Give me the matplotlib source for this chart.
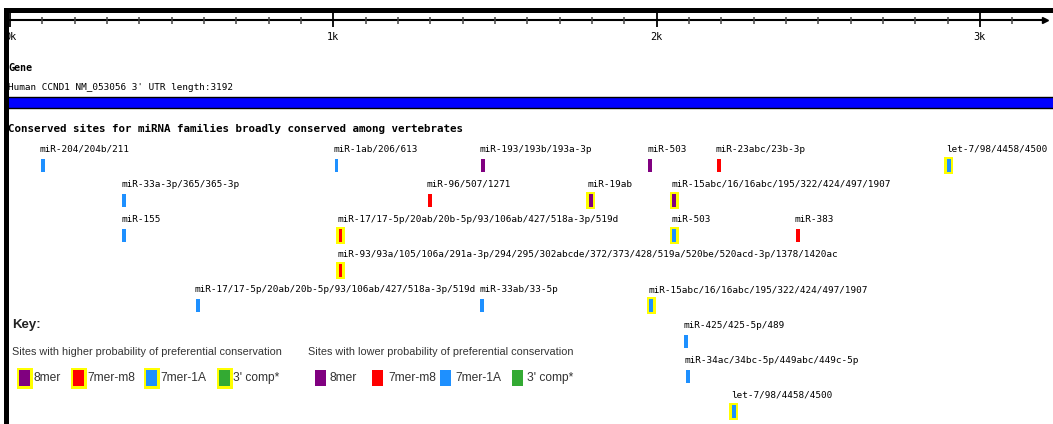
import matplotlib
matplotlib.use("Agg")
import matplotlib.pyplot as plt
from matplotlib.patches import Rectangle
import logging
logging.getLogger('matplotlib.font_manager').setLevel(logging.ERROR)

# ---------------- data ----------------
UTR_LENGTH = 3192
gene_label = "Human CCND1 NM_053056 3' UTR length:3192"
major_ticks = [0, 1000, 2000, 3000]
major_labels = ["0k", "1k", "2k", "3k"]
minor_ticks = list(range(0, 3200, 100))

site_names = [
    "miR-204/204b/211", "miR-1ab/206/613", "miR-193/193b/193a-3p", "miR-503",
    "miR-23abc/23b-3p", "let-7/98/4458/4500",
    "miR-33a-3p/365/365-3p", "miR-96/507/1271", "miR-19ab",
    "miR-15abc/16/16abc/195/322/424/497/1907",
    "miR-155", "miR-17/17-5p/20ab/20b-5p/93/106ab/427/518a-3p/519d", "miR-503", "miR-383",
    "miR-93/93a/105/106a/291a-3p/294/295/302abcde/372/373/428/519a/520be/520acd-3p/1378/1420ac",
    "miR-17/17-5p/20ab/20b-5p/93/106ab/427/518a-3p/519d", "miR-33ab/33-5p",
    "miR-15abc/16/16abc/195/322/424/497/1907",
    "miR-425/425-5p/489",
    "miR-34ac/34bc-5p/449abc/449c-5p",
    "let-7/98/4458/4500",
]
site_pos = [102, 1010, 1463, 1980, 2193, 2904,
            353, 1299, 1797, 2054,
            353, 1022, 2054, 2437,
            1022,
            581, 1460, 1983,
            2091,
            2097,
            2239]
site_row = [0, 0, 0, 0, 0, 0,
            1, 1, 1, 1,
            2, 2, 2, 2,
            3,
            4, 4, 4,
            5,
            6,
            7]
site_type = ["7mer-1A", "7mer-1A", "8mer", "8mer", "7mer-m8", "7mer-1A",
             "7mer-1A", "7mer-m8", "8mer", "8mer",
             "7mer-1A", "7mer-m8", "7mer-1A", "7mer-m8",
             "7mer-m8",
             "7mer-1A", "7mer-1A", "7mer-1A",
             "7mer-1A",
             "7mer-1A",
             "7mer-1A"]
site_high = [False, False, False, False, False, True,
             False, False, True, True,
             False, True, True, False,
             True,
             False, False, True,
             False,
             False,
             True]

key_types = ["8mer", "7mer-m8", "7mer-1A", "3' comp*"]
type_colors = {"8mer": "#800080", "7mer-m8": "#ff0000",
               "7mer-1A": "#1e90ff", "3' comp*": "#33aa33"}
HILITE = "#ffff00"

# ---------------- layout helpers ----------------
W, H = 1053, 424
S = 0.3233          # pixels per nucleotide
X0 = 10.0           # pixel of position 0

def px(x):
    """pixel x -> nucleotide coordinate"""
    return (x - X0) / S

fig = plt.figure(figsize=(W / 100, H / 100), dpi=100)
ax = fig.add_axes([0, 0, 1, 1])
ax.set_xlim(px(0), px(W))
ax.set_ylim(H, 0)
ax.axis("off")

MONO = "DejaVu Sans Mono"
SANS = ["Liberation Sans Narrow", "Liberation Sans", "DejaVu Sans"]
LABEL_FS = 6.75

# ---------------- ruler ----------------
RY = 20
ax.plot([0, UTR_LENGTH + 8], [RY, RY], color="black", lw=1.5, zorder=3)
ax.plot([UTR_LENGTH + 10], [RY], marker=">", color="black", ms=5, zorder=3)
ax.vlines([t for t in minor_ticks if t not in major_ticks], RY - 3.5, RY + 3.5,
          color="#444444", lw=1.1, zorder=3)
ax.vlines(major_ticks, RY - 7, RY + 7, color="black", lw=1.3, zorder=3)
for t, lab in zip(major_ticks, major_labels):
    ax.text(t, 37, lab, family=MONO, fontsize=7.4, ha="center", va="center")

# ---------------- gene ----------------
ax.text(px(8), 68, "Gene", family=MONO, fontsize=7.2, fontweight="bold",
        ha="left", va="center")
ax.text(px(8), 87, gene_label, family=MONO, fontsize=LABEL_FS, ha="left", va="center")
ax.add_patch(Rectangle((px(6), 97), px(W + 5) - px(6), 11, facecolor="#0000ff",
                       edgecolor="black", lw=1.0, zorder=2))

ax.text(px(8), 129, "Conserved sites for miRNA families broadly conserved among vertebrates",
        family=MONO, fontsize=7.8, fontweight="bold", ha="left", va="center")

# ---------------- sites ----------------
ROW0 = 165.0
ROWH = 35.2
MARK_W = px(X0 + 3.5) - px(X0)
MARK_H = 13
BOX_W = px(X0 + 9) - px(X0)
BOX_H = 17
LABEL_DX = px(X0 + 3) - px(X0)

for name, pos, row, typ, hi in zip(site_names, site_pos, site_row, site_type, site_high):
    yc = ROW0 + ROWH * row
    if hi:
        ax.bar(pos, BOX_H, width=BOX_W, bottom=yc - BOX_H / 2, color=HILITE,
               linewidth=0, zorder=3)
    ax.bar(pos, MARK_H, width=MARK_W, bottom=yc - MARK_H / 2,
           color=type_colors[typ], linewidth=0, zorder=4)
    ax.text(pos - LABEL_DX, yc - 16, name, family=MONO, fontsize=LABEL_FS,
            ha="left", va="center", zorder=5)

# ---------------- key ----------------
def fit_text(x, y, s, target_w, **kw):
    t = ax.text(x, y, s, fontsize=10, **kw)
    fig.canvas.draw()
    w = t.get_window_extent().width
    t.set_fontsize(10 * target_w / w)
    return t

ax.text(px(12), 325, "Key:", family=SANS, fontsize=9.5, fontweight="bold",
        ha="left", va="center", color="#222222")
hi_t = fit_text(px(12), 352, "Sites with higher probability of preferential conservation",
                268, family=SANS, ha="left", va="center", color="#333333")
fs = hi_t.get_fontsize()
ax.text(px(308), 352, "Sites with lower probability of preferential conservation",
        family=SANS, fontsize=fs, ha="left", va="center", color="#333333")

hi_box_x = [19, 73, 146, 219]
hi_txt_x = [34, 87, 160, 233]
lo_box_x = [315, 372, 440, 512]
lo_txt_x = [330, 388, 455, 527]
KY = 378
bw = px(X0 + 11) - px(X0)
for typ, bx, tx in zip(key_types, hi_box_x, hi_txt_x):
    ax.add_patch(Rectangle((px(bx - 2.5), KY - 10.5), px(X0 + 16) - px(X0), 21,
                           facecolor=HILITE, edgecolor="none", zorder=3))
    ax.add_patch(Rectangle((px(bx), KY - 8), bw, 16,
                           facecolor=type_colors[typ], edgecolor="none", zorder=4))
    ax.text(px(tx), KY, typ, family=SANS, fontsize=fs * 1.1, ha="left", va="center",
            color="#333333")
for typ, bx, tx in zip(key_types, lo_box_x, lo_txt_x):
    ax.add_patch(Rectangle((px(bx), KY - 8), bw, 16,
                           facecolor=type_colors[typ], edgecolor="none", zorder=4))
    ax.text(px(tx), KY, typ, family=SANS, fontsize=fs * 1.1, ha="left", va="center",
            color="#333333")

# ---------------- frame ----------------
ax.add_patch(Rectangle((px(4), 8), px(W + 5) - px(4), 5, facecolor="black",
                       edgecolor="none", zorder=10))
ax.add_patch(Rectangle((px(4), 8), px(9) - px(4), H, facecolor="black",
                       edgecolor="none", zorder=10))

fig.savefig("out.png", dpi=100)
